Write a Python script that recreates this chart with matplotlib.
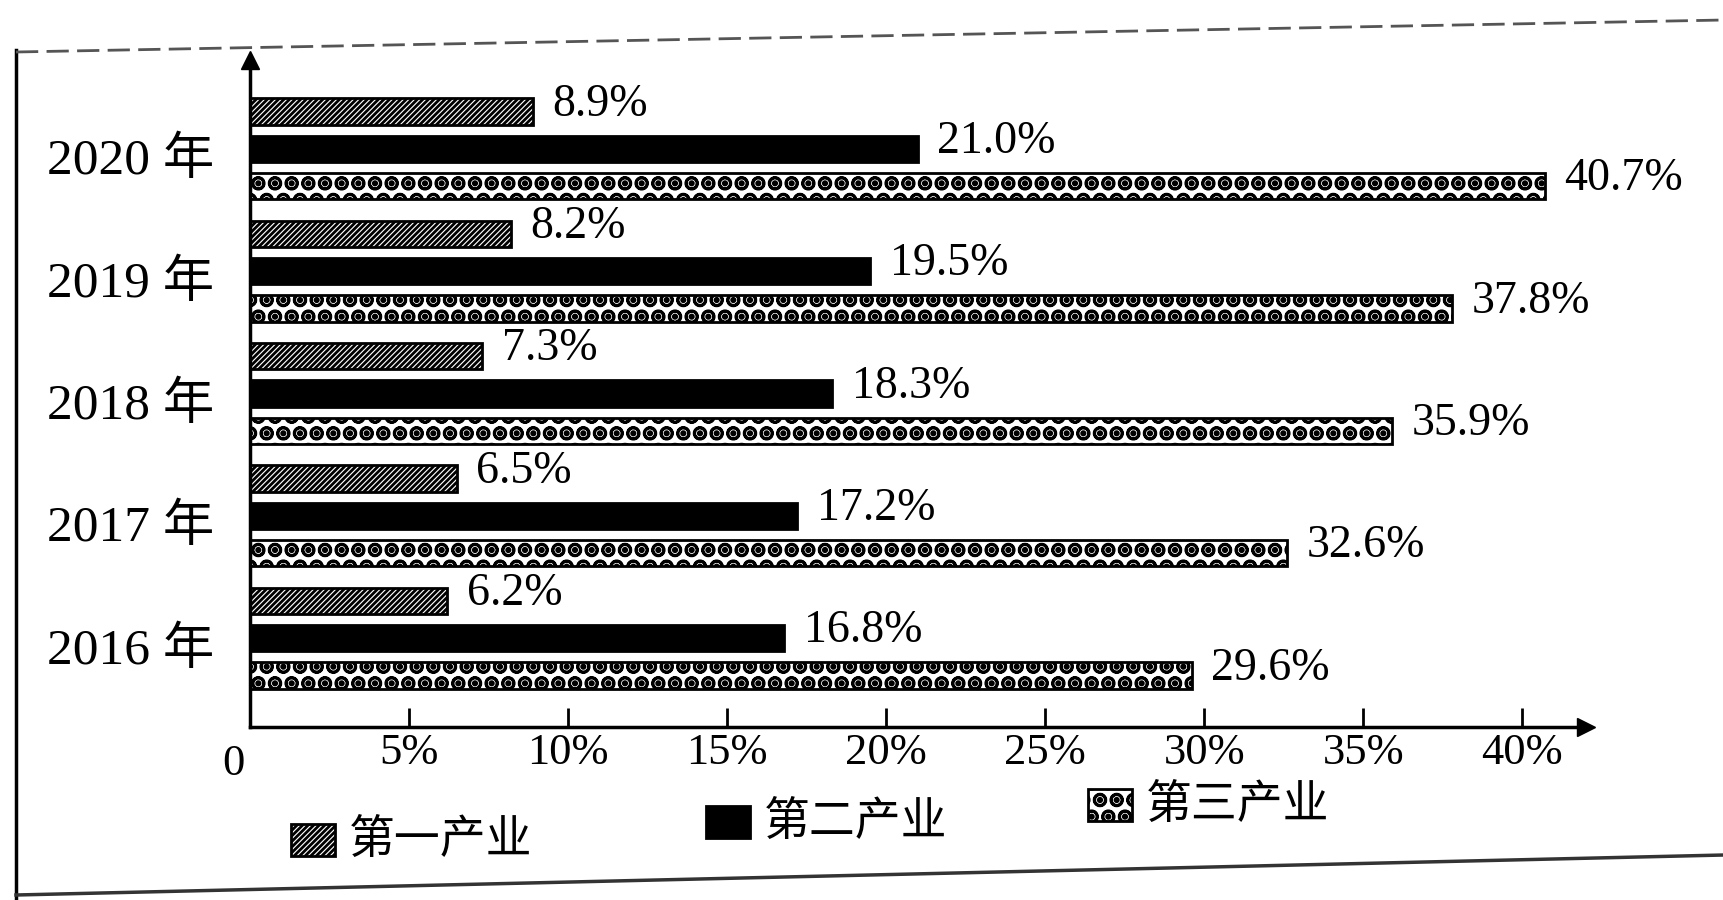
import matplotlib
matplotlib.use('Agg')
import matplotlib.pyplot as plt
from matplotlib.patches import Rectangle
from matplotlib.lines import Line2D
import numpy as np

# ---- data ----
years = ['2016 年', '2017 年', '2018 年', '2019 年', '2020 年']
primary = [6.2, 6.5, 7.3, 8.2, 8.9]
secondary = [16.8, 17.2, 18.3, 19.5, 21.0]
tertiary = [29.6, 32.6, 35.9, 37.8, 40.7]
series_names = ['第一产业', '第二产业', '第三产业']
xticks = [5, 10, 15, 20, 25, 30, 35, 40]
xticklabels = ['5%', '10%', '15%', '20%', '25%', '30%', '35%', '40%']

plt.rcParams['hatch.linewidth'] = 2.0
SERIF = ['Liberation Serif', 'Noto Sans CJK SC']
CJK = ['Noto Sans CJK SC', 'DejaVu Sans']

W, H = 1724, 900
fig = plt.figure(figsize=(W / 100, H / 100), dpi=100)
fig.patch.set_facecolor('white')

x0, x1 = 250, 1586
ytop, ybot = 60, 727
ax = fig.add_axes([x0 / W, 1 - ybot / H, (x1 - x0) / W, (ybot - ytop) / H])
ax.set_xlim(0, 42)
ax.set_ylim(-0.726, 4.726)

pos = np.arange(len(years))
off = 0.305
bh = 0.215
styles = [
    dict(facecolor='white', edgecolor='black', hatch='//////'),
    dict(facecolor='black', edgecolor='black'),
    dict(facecolor='white', edgecolor='black', hatch='O.'),
]
series = [primary, secondary, tertiary]
offsets = [off, 0, -off]
for vals, o, st, name in zip(series, offsets, styles, series_names):
    bars = ax.barh(pos + o, vals, height=bh, linewidth=2, label=name, **st)
    for b, v in zip(bars, vals):
        ax.annotate(f'{v:.1f}%', (v, b.get_y() + b.get_height() / 2),
                    xytext=(14, 5), textcoords='offset points',
                    ha='left', va='center', fontsize=33, family=SERIF)

# axes styling
for s in ['top', 'right']:
    ax.spines[s].set_visible(False)
for s in ['left', 'bottom']:
    ax.spines[s].set_linewidth(2.5)
ax.plot(1, 0, '>', color='black', ms=13, transform=ax.transAxes, clip_on=False)
ax.plot(0, 1, '^', color='black', ms=13, transform=ax.transAxes, clip_on=False)

ax.set_xticks(xticks)
ax.set_xticklabels(xticklabels, fontsize=32, family=SERIF)
ax.tick_params(axis='x', direction='in', length=14, width=2, pad=4)
ax.annotate('0', (0, 0), xycoords=('data', 'axes fraction'),
            xytext=(-12, -12), textcoords='offset points',
            ha='center', va='top', fontsize=32, family=SERIF,
            annotation_clip=False)

ax.set_yticks(pos - 0.06)
ax.set_yticklabels(years, fontsize=37, family=SERIF)
ax.tick_params(axis='y', length=0, pad=26)

# legend drawn by hand
leg = [(291, 840, series_names[0], styles[0]),
       (706, 822, series_names[1], styles[1]),
       (1088, 805, series_names[2], styles[2])]
for lx, ly, name, st in leg:
    r = Rectangle((lx / W, 1 - (ly + 16) / H), 44 / W, 32 / H,
                  transform=fig.transFigure, linewidth=2, **st)
    fig.add_artist(r)
    fig.text((lx + 58) / W, 1 - ly / H, name, fontsize=33, family=CJK,
             ha='left', va='center')

# scan frame lines
fig.add_artist(Line2D([16 / W, 16 / W], [1 - 50 / H, 0], transform=fig.transFigure,
                      color='black', lw=2.5))
fig.add_artist(Line2D([16 / W, 1], [1 - 52 / H, 1 - 20 / H], transform=fig.transFigure,
                      color='#555555', lw=2, ls=(0, (8, 3))))
fig.add_artist(Line2D([16 / W, 1], [1 - 895 / H, 1 - 855 / H], transform=fig.transFigure,
                      color='#333333', lw=2.5))

fig.savefig('out.png', dpi=100, facecolor='white')
